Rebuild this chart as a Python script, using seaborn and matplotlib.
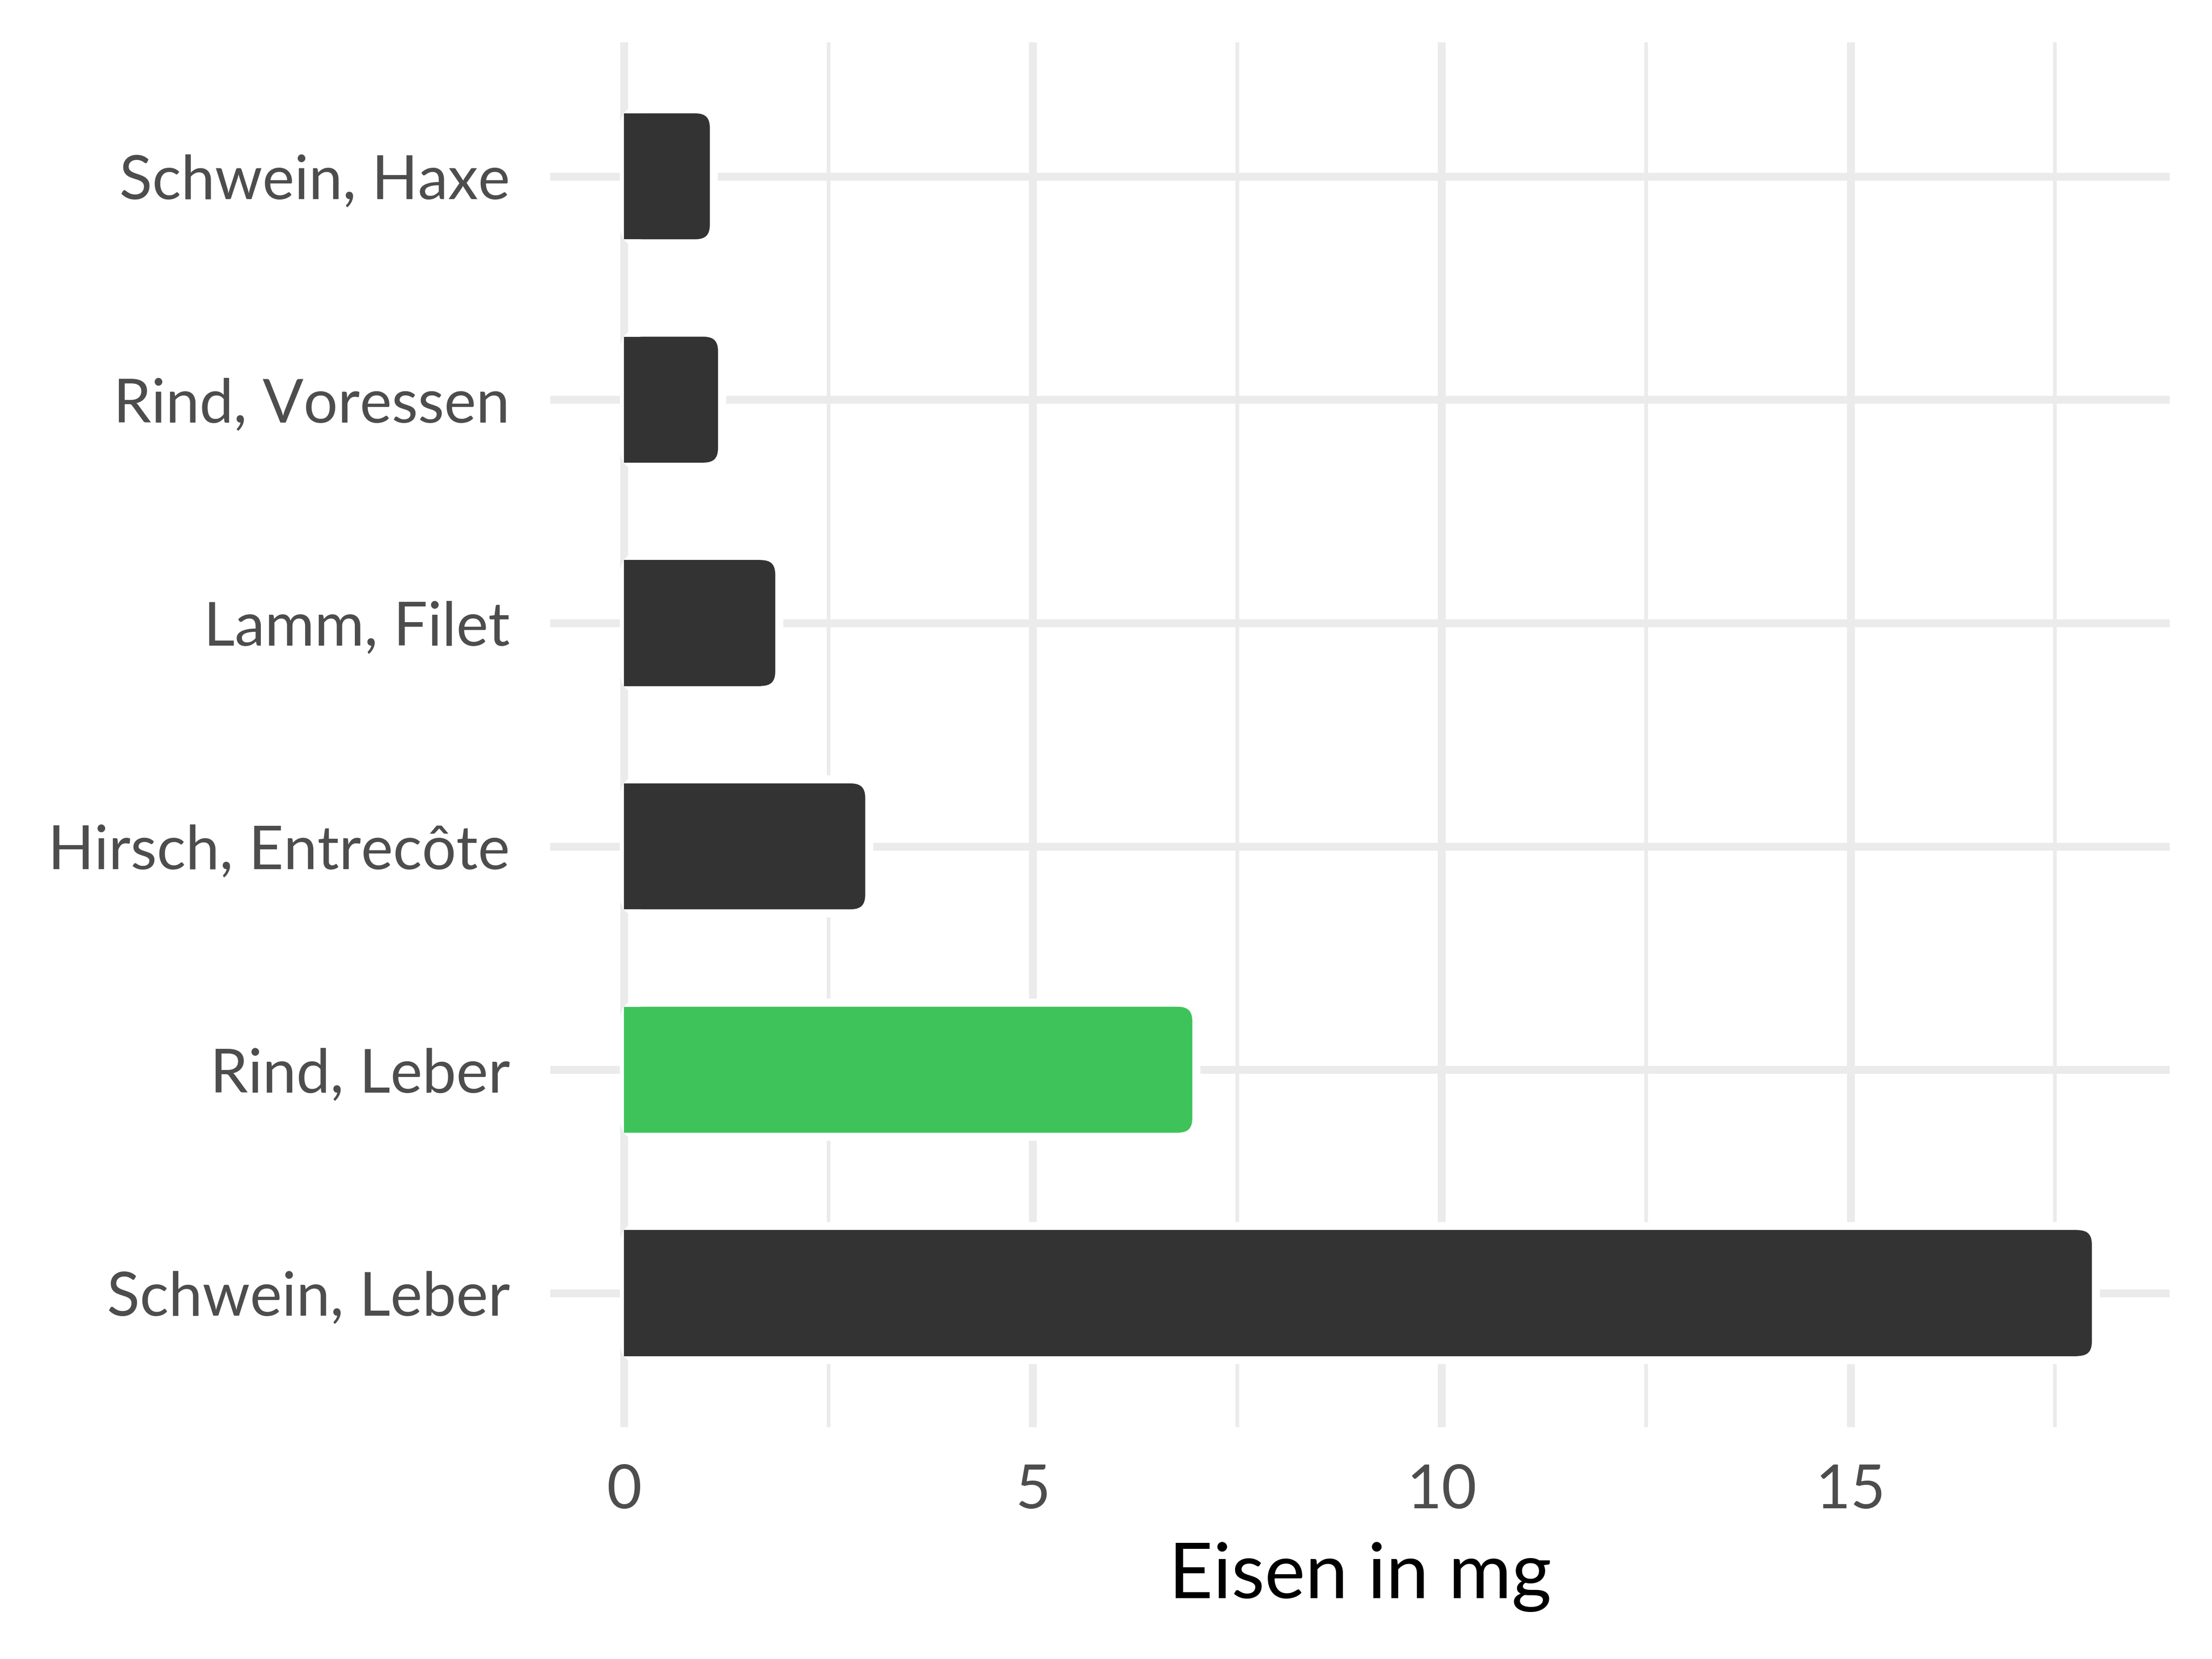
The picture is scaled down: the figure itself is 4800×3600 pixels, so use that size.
import matplotlib
matplotlib.use("Agg")
import matplotlib.pyplot as plt
from matplotlib.patches import FancyBboxPatch, Rectangle
from matplotlib.ticker import MultipleLocator
import seaborn as sns

# data
foods = ["Schwein, Haxe", "Rind, Voressen", "Lamm, Filet",
         "Hirsch, Entrecôte", "Rind, Leber", "Schwein, Leber"]
eisen = [1.1, 1.2, 1.9, 3.0, 7.0, 18.0]
highlight = "Rind, Leber"

dark = "#333333"
green = "#3EC35A"
grid_col = "#EBEBEB"
colors = {f: (green if f == highlight else dark) for f in foods}

sns.set_theme(style="white")
plt.rcParams["font.family"] = ["Lato", "DejaVu Sans"]

fig, ax = plt.subplots(figsize=(16, 12), dpi=300)
fig.subplots_adjust(left=0.2488, right=0.9808, top=0.9745, bottom=0.1398)

sns.barplot(x=eisen, y=foods, hue=foods, palette=colors, legend=False,
            width=0.6, saturation=1, orient="h", ax=ax)

# ggplot-like expansion
xmax = max(eisen)
ax.set_xlim(-0.05 * xmax, 1.05 * xmax)
ax.set_ylim(len(foods) - 0.4, -0.6)

# rounded bars with white outline
fig.canvas.draw()
bbox = ax.get_window_extent()
xpp = (ax.get_xlim()[1] - ax.get_xlim()[0]) / bbox.width
ypp = abs(ax.get_ylim()[1] - ax.get_ylim()[0]) / bbox.height
r_px = 40
edge_px = 17.5
rx = r_px * xpp
aspect = ypp / xpp
pad_y = edge_px / 2 * ypp

bars = list(ax.patches)
for p in bars:
    x, y = p.get_x(), p.get_y()
    w, h = p.get_width(), p.get_height()
    col = p.get_facecolor()
    p.remove()
    ax.add_patch(FancyBboxPatch((x, y), w, h,
                                boxstyle=f"round,pad=0,rounding_size={rx}",
                                mutation_aspect=aspect, facecolor=col,
                                edgecolor="white", linewidth=edge_px * 72 / 300,
                                zorder=3))
    ax.add_patch(Rectangle((x, y + pad_y), max(w - rx, 0), h - 2 * pad_y,
                           facecolor=col, edgecolor="none", linewidth=0, zorder=4))

# grid
ax.xaxis.set_major_locator(MultipleLocator(5))
ax.xaxis.set_minor_locator(MultipleLocator(2.5))
ax.grid(True, which="major", axis="both", color=grid_col, linewidth=4.1, zorder=0)
ax.grid(True, which="minor", axis="x", color=grid_col, linewidth=1.9, zorder=0)
ax.set_axisbelow(True)
for s in ax.spines.values():
    s.set_visible(False)

ax.tick_params(axis="both", which="both", length=0)
ax.tick_params(axis="y", labelsize=31.5, labelcolor="#4D4D4D", pad=21)
ax.tick_params(axis="x", labelsize=31.5, labelcolor="#4D4D4D", pad=19)
ax.set_ylabel("")
ax.set_xlabel("Eisen in mg", fontsize=40, color="black", labelpad=12)

fig.savefig("out.png", dpi=300)
plt.close(fig)
